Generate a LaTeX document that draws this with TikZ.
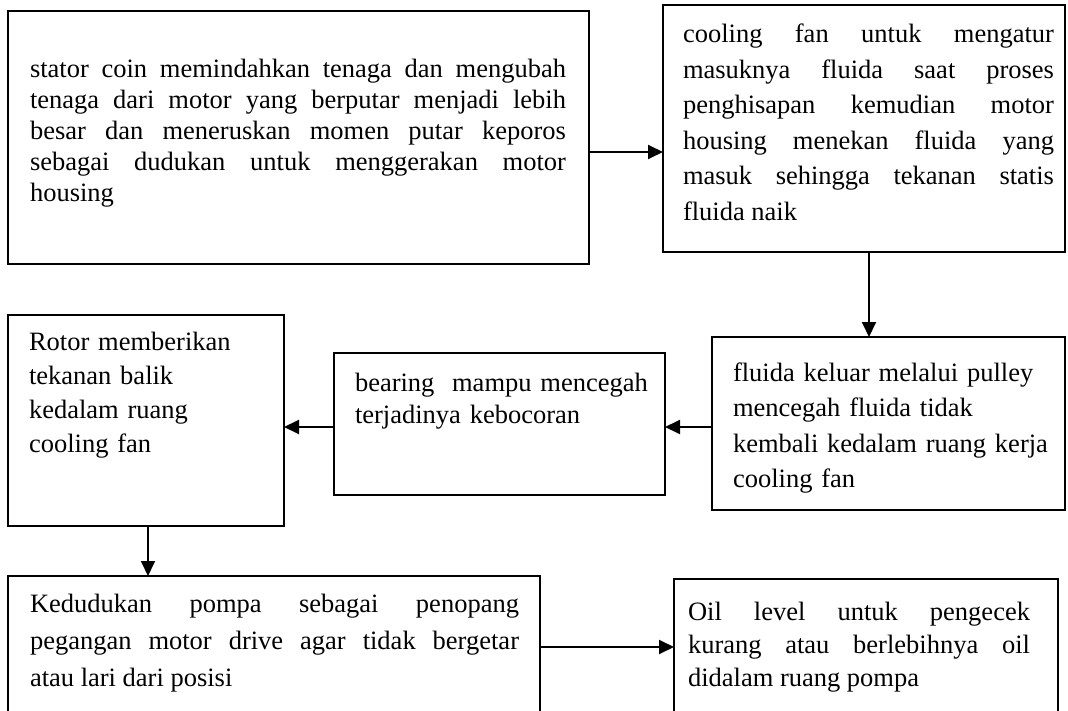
\documentclass[tikz,border=0pt]{standalone}
\usepackage{fontspec}
\setmainfont{Liberation Serif}
\usetikzlibrary{arrows.meta}
\begin{document}
\begin{tikzpicture}[x=1pt,y=-1pt,
  box/.style={draw=black, line width=1.9pt, inner sep=0pt, outer sep=0pt, anchor=north west},
  txt/.style={inner sep=0pt, outer sep=0pt, anchor=base west, font=\fontsize{26.5}{#1}\selectfont},
  txt/.default=35,
  jtxt/.style={txt=#1, align=justify},
  jtxt/.default=35,
  ltxt/.style={txt=#1, align=left},
  ltxt/.default=35,
  arr/.style={line width=1.9pt, -{Triangle[length=15pt,width=14pt]}}]
\useasboundingbox (0,0) rectangle (1068,711);
\fill[white] (0,0) rectangle (1068,711);
\clip (0,0) rectangle (1068,711);
% boxes
\node[box, minimum width=581pt, minimum height=253pt] (b1) at (8,11) {};
\node[box, minimum width=402pt, minimum height=247pt] (b2) at (663,5) {};
\node[box, minimum width=353pt, minimum height=173pt] (b3) at (712,337) {};
\node[box, minimum width=331pt, minimum height=142pt] (b4) at (334,353) {};
\node[box, minimum width=276pt, minimum height=211pt] (b5) at (8,315) {};
\node[box, minimum width=532pt, minimum height=140pt] (b6) at (8,576) {};
\node[box, minimum width=384pt, minimum height=140pt] (b7) at (674,579) {};
% texts
\node[jtxt=30.8, text width=536pt] (t1) at (30,78) {\hyphenpenalty=10000\tolerance=10000
stator coin memindahkan tenaga dan mengubah\linebreak
tenaga dari motor yang berputar menjadi lebih\linebreak
besar dan meneruskan momen putar keporos\linebreak
sebagai dudukan untuk menggerakan motor\linebreak
housing};
\node[jtxt=35.5, text width=371pt] (t2) at (683,43) {\hyphenpenalty=10000\tolerance=10000
cooling fan untuk mengatur\linebreak
masuknya fluida saat proses\linebreak
penghisapan kemudian motor\linebreak
housing menekan fluida yang\linebreak
masuk sehingga tekanan statis\linebreak
fluida naik};
\node[ltxt=35.5, text width=330pt] (t3) at (733,381) {fluida keluar melalui pulley\\
mencegah fluida tidak\\
kembali kedalam ruang kerja\\
cooling fan};
\node[ltxt=32, text width=300pt] (t4) at (355,391) {bearing\ \ mampu mencegah\\
terjadinya kebocoran};
\node[ltxt=34, text width=240pt] (t5) at (29,350) {Rotor memberikan\\
tekanan balik\\
kedalam ruang\\
cooling fan};
\node[jtxt=37, text width=489pt] (t6) at (30,612) {\hyphenpenalty=10000\tolerance=10000
Kedudukan pompa sebagai penopang\linebreak
pegangan motor drive agar tidak bergetar\linebreak
atau lari dari posisi};
\node[jtxt=33, text width=342pt] (t7) at (688,620) {\hyphenpenalty=10000\tolerance=10000
Oil level untuk pengecek\linebreak
kurang atau berlebihnya oil\linebreak
didalam ruang pompa};
% connector guides
\coordinate (y12) at (0,152);
\coordinate (x23) at (869,0);
\coordinate (y345) at (0,427);
\coordinate (x56) at (148,0);
\coordinate (y67) at (0,647);
% connectors
\draw[arr] (b1.east |- y12) -- (b2.west |- y12);
\draw[arr] (b2.south -| x23) -- (b3.north -| x23);
\draw[arr] (b3.west |- y345) -- (b4.east |- y345);
\draw[arr] (b4.west |- y345) -- (b5.east |- y345);
\draw[arr] (b5.south -| x56) -- (b6.north -| x56);
\draw[arr] (b6.east |- y67) -- (b7.west |- y67);
\end{tikzpicture}
\end{document}
